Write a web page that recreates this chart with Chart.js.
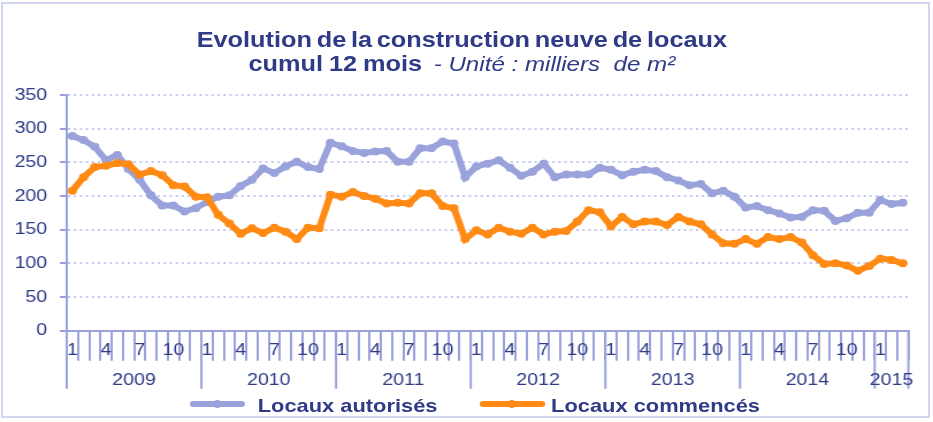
<!DOCTYPE html>
<html><head><meta charset="utf-8">
<script src="https://cdn.jsdelivr.net/npm/chart.js@4.4.1/dist/chart.umd.min.js"></script>
<style>
html,body{margin:0;padding:0;background:#fff;width:933px;height:422px;overflow:hidden;}
#frame{position:absolute;left:1px;top:2px;width:925px;height:412px;border:2px solid #D3D6EF;}
#wrap{position:absolute;left:0;top:0;width:811px;height:422px;transform-origin:0 0;transform:scaleX(1.1504);}
#c{position:absolute;left:0;top:0;}
.t{position:absolute;left:-4px;width:811px;text-align:center;font-family:"Liberation Sans",Arial,sans-serif;color:#2F3B86;white-space:nowrap;}
#t1{top:29px;font-weight:bold;font-size:22px;line-height:22px;word-spacing:-2px;}
#t2{top:53px;font-size:22px;line-height:22px;}
#t2 b{font-weight:bold;word-spacing:-1px;}
#t2 i{font-style:italic;font-size:21px;margin-left:4px;}
.lg{position:absolute;top:396px;font-family:"Liberation Sans",Arial,sans-serif;font-weight:bold;font-size:19px;line-height:19px;color:#2F3B86;white-space:nowrap;}
.sw{position:absolute;height:6px;border-radius:3px;top:401px;}
.dot{position:absolute;width:8px;height:8px;border-radius:4px;top:400px;}
</style></head>
<body>
<div id="frame"></div>
<div id="wrap">
  <canvas id="c" width="811" height="422"></canvas>
  <div class="t" id="t1">Evolution de la construction neuve de locaux</div>
  <div class="t" id="t2"><b>cumul 12 mois</b> <i>- Unité : milliers&nbsp; de m²</i></div>
  <div class="sw" style="left:165px;width:48px;background:#9AA2DC"></div>
  <div class="dot" style="left:185px;background:#9AA2DC"></div>
  <div class="lg" style="left:224px">Locaux autorisés</div>
  <div class="sw" style="left:417px;width:57px;background:#FF8A14"></div>
  <div class="dot" style="left:441px;background:#FF8A14"></div>
  <div class="lg" style="left:479px">Locaux commencés</div>
</div>
<script>
// ---- data ----
const years = ['2009','2010','2011','2012','2013','2014','2015'];
const monthsPerYear = [12,12,12,12,12,12,3];
const shownMonths = [1,4,7,10];
const yTicks = [0,50,100,150,200,250,300,350];

const autorises = [
  289,283,273,253,261,240,224,201,186,186,177,182,
  191,199,201,215,224,241,234,244,251,243,240,279,
  274,267,264,266,267,251,251,271,271,281,278,228,
  244,248,253,242,230,236,248,228,232,232,232,242,
  239,231,236,239,237,228,223,216,218,204,208,199,
  183,185,179,174,168,169,179,178,163,167,175,175,
  194,188,190
];
const commences = [
  208,228,243,245,249,247,232,237,231,216,214,199,
  198,172,159,144,152,145,153,147,136,153,152,202,
  199,206,200,196,189,190,189,204,204,185,182,136,
  149,143,153,147,144,153,143,147,148,162,179,176,
  155,169,158,162,162,157,169,162,158,143,130,129,
  136,129,139,136,139,131,112, 99,100, 97, 89, 96,
  107,105,100
];

// categories built from years / months
const categories = [];
const monthOfIndex = [];
years.forEach((y,k)=>{ for(let m=1;m<=monthsPerYear[k];m++){ categories.push(m+'/'+y); monthOfIndex.push(m);} });

const AXIS = '#9BA3DD';
const TEXT = '#2F3B86';
const BLUE = '#9AA2DC';
const ORANGE = '#FF8A14';
const FONT = '"Liberation Sans", Arial, sans-serif';

const yearAxis = {
  id:'yearAxis',
  afterDraw(chart){
    const xs = chart.scales.x, ctx = chart.ctx;
    const half = (xs.getPixelForValue(1) - xs.getPixelForValue(0))/2;
    const top = xs.top;
    ctx.save();
    ctx.strokeStyle = AXIS; ctx.lineWidth = 2;
    ctx.fillStyle = TEXT; ctx.font = '17px ' + FONT;
    ctx.textAlign = 'center'; ctx.textBaseline = 'middle';
    let start = 0;
    years.forEach((yr,k)=>{
      const n = monthsPerYear[k];
      const x0 = xs.getPixelForValue(start) - half;
      const x1 = xs.getPixelForValue(start+n-1) + half;
      ctx.beginPath(); ctx.moveTo(x0, top); ctx.lineTo(x0, top+58); ctx.stroke();
      if(k === years.length-1){ ctx.beginPath(); ctx.moveTo(x1, top); ctx.lineTo(x1, top+58); ctx.stroke(); }
      ctx.fillText(yr, (x0+x1)/2, 380);
      start += n;
    });
    ctx.restore();
  }
};

new Chart(document.getElementById('c'), {
  type:'line',
  data:{
    labels: categories,
    datasets:[
      {label:'Locaux autorisés', data:autorises, borderColor:BLUE, backgroundColor:BLUE, borderWidth:6, pointRadius:4, pointBorderWidth:0, pointBackgroundColor:BLUE, tension:0, order:1},
      {label:'Locaux commencés', data:commences, borderColor:ORANGE, backgroundColor:ORANGE, borderWidth:6, pointRadius:4, pointBorderWidth:0, pointBackgroundColor:ORANGE, tension:0, order:0}
    ]
  },
  options:{
    responsive:false, animation:false, events:[],
    layout:{padding:{left:0, right:21.4, top:95, bottom:31.3}},
    plugins:{legend:{display:false}, title:{display:false}, tooltip:{enabled:false}},
    scales:{
      x:{
        type:'category', offset:true,
        afterFit(s){ s.height = 60; },
        grid:{offset:true, drawOnChartArea:false, drawTicks:true, tickLength:30, color:AXIS, lineWidth:2},
        border:{color:AXIS, width:2},
        ticks:{autoSkip:false, minRotation:0, maxRotation:0, padding:-21, color:TEXT, font:{family:FONT, size:17},
          callback:(v,i)=> shownMonths.includes(monthOfIndex[i]) ? String(monthOfIndex[i]) : ''}
      },
      y:{
        min:0, max:350,
        afterFit(s){ s.width = 58; },
        afterBuildTicks(s){ s.ticks = yTicks.map(v=>({value:v})); },
        grid:{color:'#C3C8EE', lineWidth:2, tickLength:6, tickColor:AXIS, tickWidth:2, borderDash:[2,3.2]},
        border:{color:AXIS, width:2, dash:[2,3.2]},
        ticks:{padding:11, color:TEXT, font:{family:FONT, size:17}}
      }
    }
  },
  plugins:[yearAxis]
});
</script>
</body></html>
